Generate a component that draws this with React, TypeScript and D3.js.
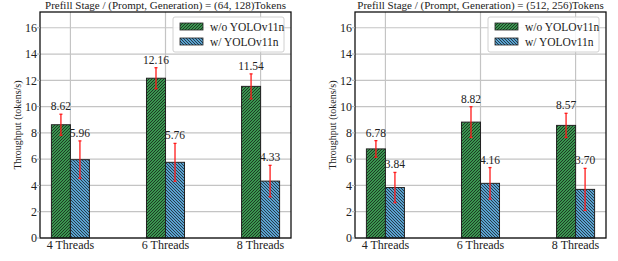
import React from "react";
import * as d3 from "d3";

const categories = ["4 Threads", "6 Threads", "8 Threads"];
const yTicks = [0, 2, 4, 6, 8, 10, 12, 14, 16];
const seriesNames = ["w/o YOLOv11n", "w/ YOLOv11n"];

const titlesList = [
  "Prefill Stage / (Prompt, Generation) = (64, 128)Tokens",
  "Prefill Stage / (Prompt, Generation) = (512, 256)Tokens",
];

// left panel (64, 128)
const leftWithout = [8.62, 12.16, 11.54];
const leftWithoutErr = [0.8, 0.8, 0.95];
const leftWith = [5.96, 5.76, 4.33];
const leftWithErr = [1.43, 1.44, 1.2];

// right panel (512, 256)
const rightWithout = [6.78, 8.82, 8.57];
const rightWithoutErr = [0.63, 1.17, 0.92];
const rightWith = [3.84, 4.16, 3.7];
const rightWithErr = [1.15, 1.2, 1.6];

const TXT: React.CSSProperties = { fontFamily: "'Liberation Serif'" };
const GREEN = "#3a9650";
const BLUE = "#5aa2d0";

type PanelProps = {
  left: number;
  title: string;
  without: number[];
  withoutErr: number[];
  withV: number[];
  withErr: number[];
};

const Panel: React.FC<PanelProps> = ({ left, title, without, withoutErr, withV, withErr }) => {
  const top = 12;
  const bottom = 238;
  const right = left + 251;
  const x = d3.scaleLinear().domain([-0.32, 2.32]).range([left, right]);
  const y = d3.scaleLinear().domain([0, 17.2]).range([bottom, top]);
  const bw = 0.2;

  const series = [
    { vals: without, errs: withoutErr, fill: "url(#hatchGreen)", off: -bw },
    { vals: withV, errs: withErr, fill: "url(#hatchBlue)", off: 0 },
  ];

  return (
    <g>
      {/* grid */}
      {yTicks.map((t) => (
        <line key={"gy" + t} x1={left} x2={right} y1={y(t)} y2={y(t)} stroke="#c4c4c4" strokeWidth={1.2} />
      ))}
      {categories.map((c, i) => (
        <line key={"gx" + c} x1={x(i)} x2={x(i)} y1={top} y2={bottom} stroke="#c4c4c4" strokeWidth={1.2} />
      ))}

      {/* bars */}
      {series.map((s, si) =>
        s.vals.map((v, i) => (
          <rect
            key={"b" + si + i}
            x={x(i + s.off)}
            y={y(v)}
            width={x(bw) - x(0)}
            height={y(0) - y(v)}
            fill={s.fill}
            stroke="#222"
            strokeWidth={1}
          />
        ))
      )}

      {/* error bars */}
      {series.map((s, si) =>
        s.vals.map((v, i) => {
          const cx = x(i + s.off + bw / 2);
          return (
            <g key={"e" + si + i} stroke="#ff1a1a" strokeWidth={1.3}>
              <line x1={cx} x2={cx} y1={y(v - s.errs[i])} y2={y(v + s.errs[i])} />
              <line x1={cx - 1.5} x2={cx + 1.5} y1={y(v - s.errs[i])} y2={y(v - s.errs[i])} />
              <line x1={cx - 1.5} x2={cx + 1.5} y1={y(v + s.errs[i])} y2={y(v + s.errs[i])} />
            </g>
          );
        })
      )}

      {/* value labels */}
      {series.map((s, si) =>
        s.vals.map((v, i) => (
          <text
            key={"l" + si + i}
            x={x(i + s.off + bw / 2)}
            y={y(v + s.errs[i]) - 4}
            textAnchor="middle"
            fontSize={11.5}
            fill="#222"
            style={TXT}
          >
            {v.toFixed(2)}
          </text>
        ))
      )}

      {/* spines */}
      <rect x={left} y={top} width={right - left} height={bottom - top} fill="none" stroke="#111" strokeWidth={1.3} />

      {/* y ticks */}
      {yTicks.map((t) => (
        <g key={"yt" + t}>
          <line x1={left - 3} x2={left} y1={y(t)} y2={y(t)} stroke="#b0b0b0" strokeWidth={1} />
          <text x={left - 3} y={y(t)} dy="0.35em" textAnchor="end" fontSize={12} fill="#222" style={TXT}>
            {t}
          </text>
        </g>
      ))}
      {/* x ticks */}
      {categories.map((c, i) => (
        <text key={"xt" + c} x={x(i)} y={bottom + 11} textAnchor="middle" fontSize={12} fill="#222" style={TXT}>
          {c}
        </text>
      ))}

      <text
        transform={`translate(${left - 19},${(top + bottom) / 2}) rotate(-90)`}
        textAnchor="middle"
        fontSize={10}
        fill="#222"
        style={TXT}
      >
        Throughput (tokens/s)
      </text>

      <text x={(left + right) / 2} y={9} textAnchor="middle" fontSize={11} fill="#222" style={TXT}>
        {title}
      </text>

      {/* legend */}
      <g transform={`translate(${right - 118},${top + 5})`}>
        <rect x={0} y={0} width={111} height={35} rx={2} fill="#fff" fillOpacity={0.85} stroke="#d0d0d0" />
        {seriesNames.map((n, k) => (
          <g key={n} transform={`translate(7,${6 + k * 15})`}>
            <rect x={0} y={0} width={23} height={7} fill={k === 0 ? "url(#hatchGreen)" : "url(#hatchBlue)"} stroke="#222" strokeWidth={0.8} />
            <text x={30} y={7.5} fontSize={11.5} fill="#222" style={TXT}>
              {n}
            </text>
          </g>
        ))}
      </g>
    </g>
  );
};

export default function App() {
  return (
    <svg width={618} height={261} style={{ position: "absolute", left: 0, top: 0, background: "#fff" }}>
      <defs>
        <pattern id="hatchGreen" patternUnits="userSpaceOnUse" width={3} height={3}>
          <rect width={3} height={3} fill={GREEN} />
          <path d="M-0.75,0.75 l1.5,-1.5 M0,3 l3,-3 M2.25,3.75 l1.5,-1.5" stroke="#111" strokeWidth={0.7} />
        </pattern>
        <pattern id="hatchBlue" patternUnits="userSpaceOnUse" width={3} height={3}>
          <rect width={3} height={3} fill={BLUE} />
          <path d="M-0.75,2.25 l1.5,1.5 M0,0 l3,3 M2.25,-0.75 l1.5,1.5" stroke="#111" strokeWidth={0.7} />
        </pattern>
      </defs>
      <rect width={618} height={261} fill="#fff" />
      <Panel left={40} title={titlesList[0]} without={leftWithout} withoutErr={leftWithoutErr} withV={leftWith} withErr={leftWithErr} />
      <Panel left={355} title={titlesList[1]} without={rightWithout} withoutErr={rightWithoutErr} withV={rightWith} withErr={rightWithErr} />
    </svg>
  );
}
